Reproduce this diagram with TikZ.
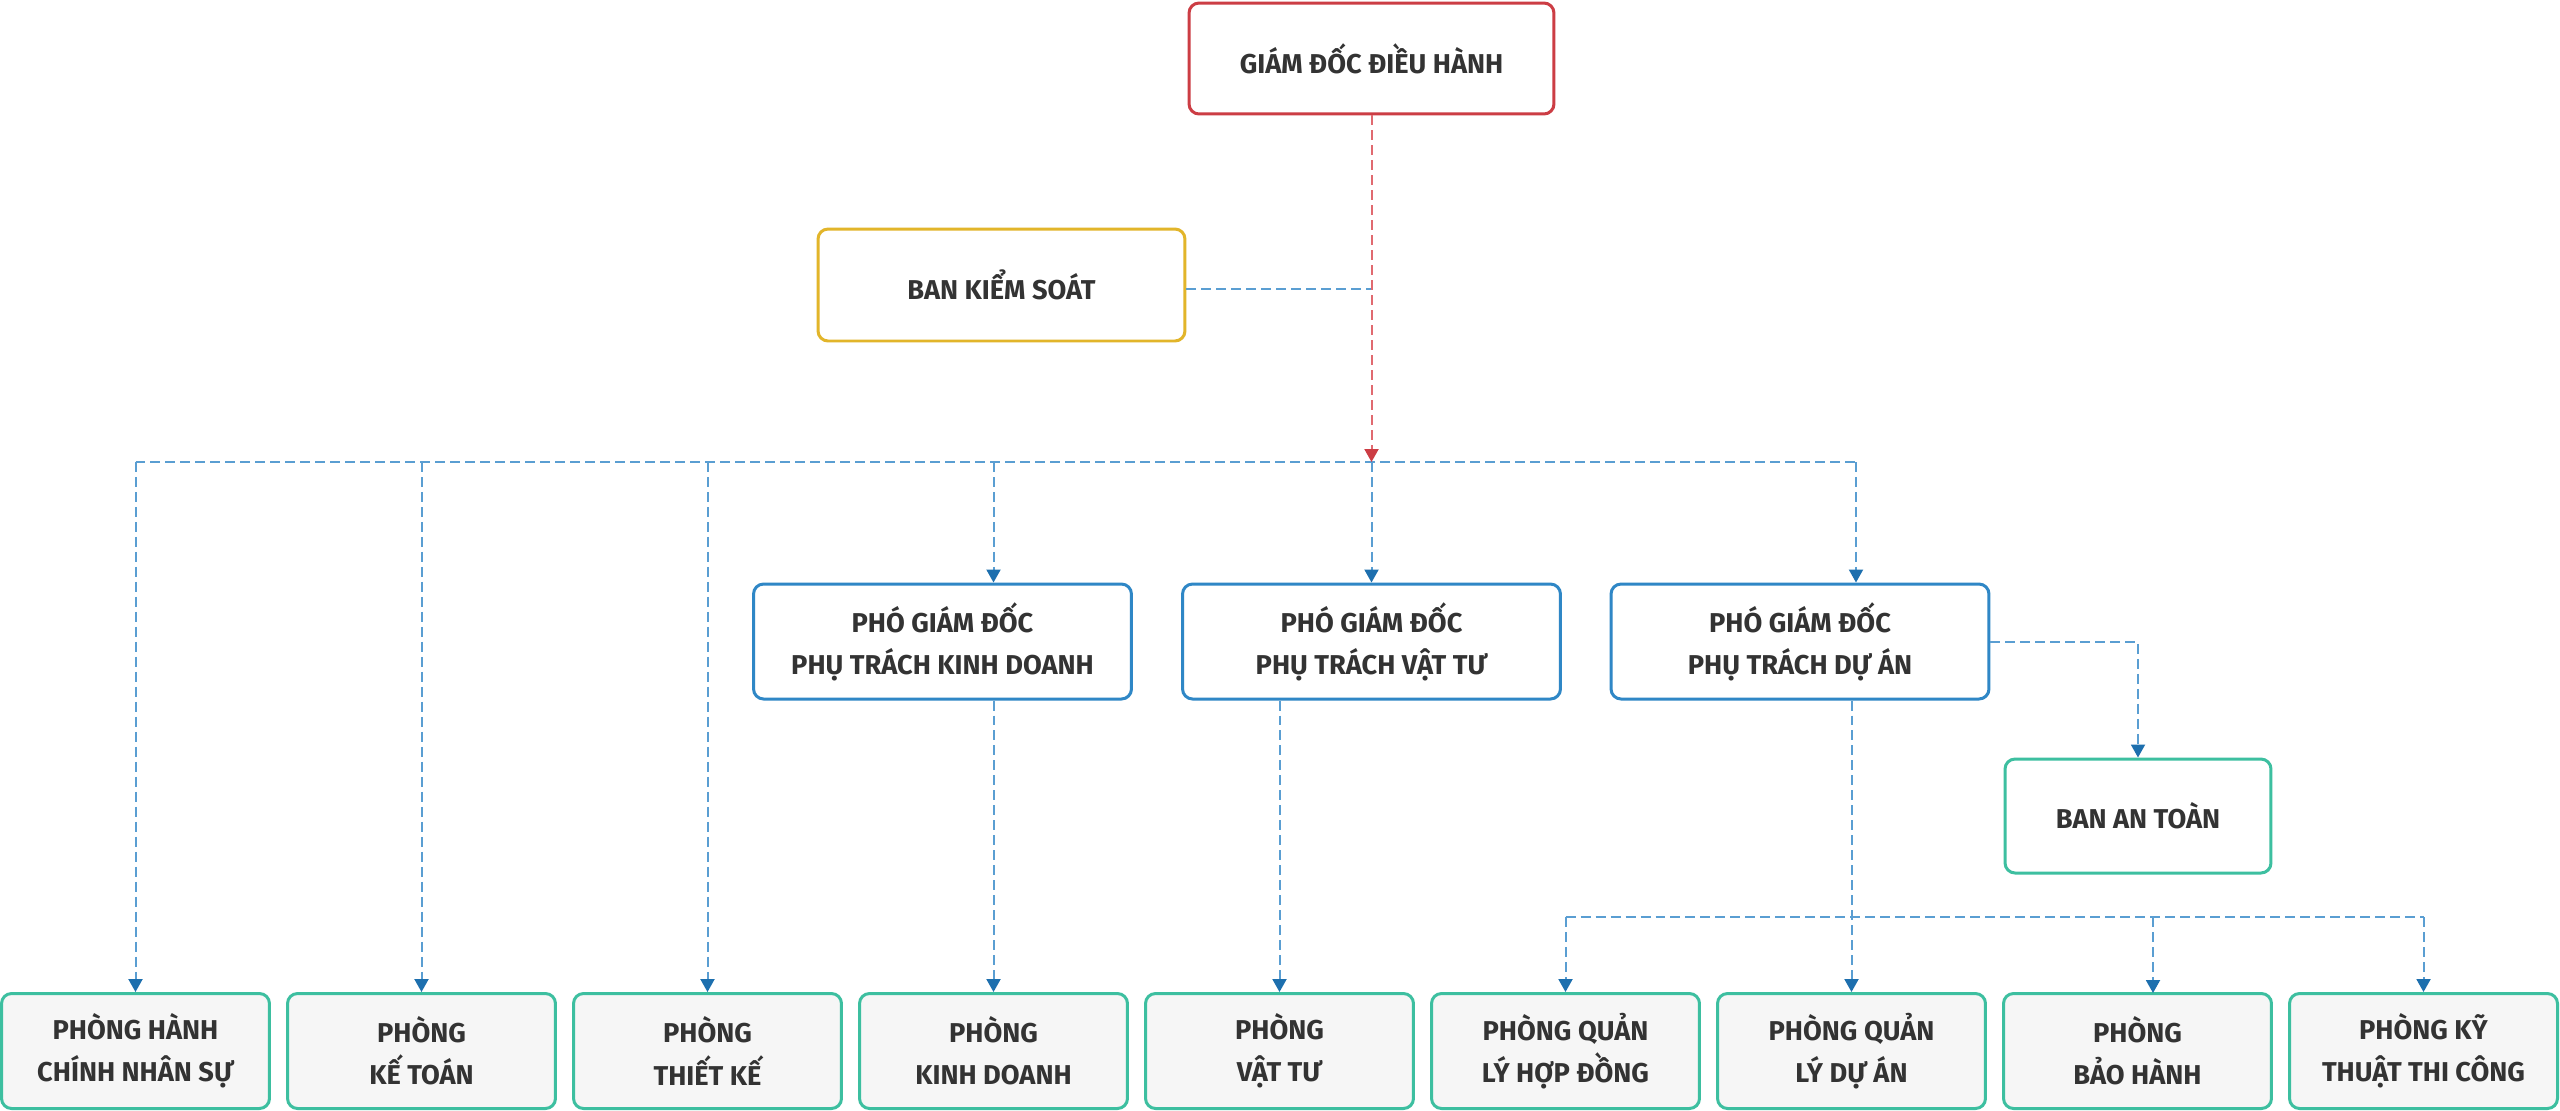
\documentclass[tikz,border=0pt]{standalone}
\usepackage{fontspec}
\setmainfont{Fira Sans}
\usetikzlibrary{arrows.meta}
\definecolor{txt}{HTML}{333333}
\definecolor{cred}{HTML}{CC3D44}
\definecolor{credline}{HTML}{E06A70}
\definecolor{cyel}{HTML}{E2B52A}
\definecolor{cblue}{HTML}{2F87C6}
\definecolor{cteal}{HTML}{3DBFA0}
\definecolor{cline}{HTML}{5A9ED2}
\definecolor{carrow}{HTML}{1D6FAE}
\definecolor{cfill}{HTML}{F6F6F6}
\tikzset{
  box/.style={draw, line width=0.06cm, rounded corners=0.2cm, align=center, text=txt,
    font=\bfseries\fontsize{15.5}{24}\selectfont, inner sep=0pt},
  topbox/.style={box, draw=cred, fill=white, minimum width=7.3cm, minimum height=2.22cm},
  ksbox/.style={box, draw=cyel, fill=white, minimum width=7.34cm, minimum height=2.24cm},
  pgdbox/.style={box, draw=cblue, fill=white, minimum width=7.56cm, minimum height=2.3cm},
  safebox/.style={box, draw=cteal, fill=white, minimum width=5.32cm, minimum height=2.28cm},
  deptbox/.style={box, draw=cteal, fill=cfill, minimum width=5.36cm, minimum height=2.3cm},
  link/.style={draw=cline, line width=0.04cm, dash pattern=on 0.2cm off 0.1cm},
  redlink/.style={draw=credline, line width=0.04cm, dash pattern=on 0.2cm off 0.1cm},
  tip/.style={-{Triangle[width=0.28cm,length=0.26cm,color=carrow]}},
  redtip/.style={-{Triangle[width=0.28cm,length=0.26cm,color=cred]}}
}
\begin{document}
\begin{tikzpicture}[x=0.02cm,y=-0.02cm]
\useasboundingbox (0,0) rectangle (2560,1110);
\fill[white] (0,0) rectangle (2560,1110);

\node[topbox] (gd) at (1371.5,58.5) {GIÁM ĐỐC ĐIỀU HÀNH};
\node[ksbox] (bks) at (1001.5,285) {BAN KIỂM SOÁT};
\node[pgdbox] (kd) at (942.5,641.5) {PHÓ GIÁM ĐỐC\\PHỤ TRÁCH KINH DOANH};
\node[pgdbox] (vt) at (1371.5,641.5) {PHÓ GIÁM ĐỐC\\PHỤ TRÁCH VẬT TƯ};
\node[pgdbox] (da) at (1800,641.5) {PHÓ GIÁM ĐỐC\\PHỤ TRÁCH DỰ ÁN};
\node[safebox] (bat) at (2138,816) {BAN AN TOÀN};

\node[deptbox] (p1) at (135.5,1051) {PHÒNG HÀNH\\CHÍNH NHÂN SỰ};
\node[deptbox] (p2) at (421.5,1051) {PHÒNG\\KẾ TOÁN};
\node[deptbox] (p3) at (707.5,1051) {PHÒNG\\THIẾT KẾ};
\node[deptbox] (p4) at (993.5,1051) {PHÒNG\\KINH DOANH};
\node[deptbox] (p5) at (1279.5,1051) {PHÒNG\\VẬT TƯ};
\node[deptbox] (p6) at (1565.5,1051) {PHÒNG QUẢN\\LÝ HỢP ĐỒNG};
\node[deptbox] (p7) at (1851.5,1051) {PHÒNG QUẢN\\LÝ DỰ ÁN};
\node[deptbox] (p8) at (2137.5,1051) {PHÒNG\\BẢO HÀNH};
\node[deptbox] (p9) at (2423.5,1051) {PHÒNG KỸ\\THUẬT THI CÔNG};

% top connectors
\coordinate (hub) at (1371.5,462);
\coordinate (busL) at (135.5,462);
\coordinate (busR) at (1856,462);
\draw[link] ([yshift=-0.08cm]bks.east) -- ([yshift=-0.08cm]bks.east -| gd.south);
\draw[link] (busL) -- (busR);
\draw[redlink,redtip] (gd.south) -- (hub);
\draw[link,tip] (busL) -- (p1.north);
\draw[link,tip] (hub -| p2.north) -- (p2.north);
\draw[link,tip] (hub -| p3.north) -- (p3.north);
\draw[link,tip] (hub -| p4.north) -- (kd.north -| p4.north);
\draw[link,tip] (hub) -- (vt.north);
\draw[link,tip] (busR) -- (busR |- da.north);

% vice director connectors
\draw[link,tip] (kd.south -| p4.north) -- (p4.north);
\draw[link,tip] (vt.south -| p5.north) -- (p5.north);
\draw[link,tip] (da.south -| p7.north) -- (p7.north);
\draw[link,tip] (da.east) -| (bat.north);

% bottom bus
\coordinate (bbL) at (1565.5,917);
\coordinate (bbR) at (2423.5,917);
\coordinate (bbM) at (2153,917);
\coordinate (bhTop) at (2153,993);
\draw[link] (bbL) -- (bbR);
\draw[link,tip] (bbL) -- (p6.north);
\draw[link,tip] (bbM) -- (bhTop);
\draw[link,tip] (bbR) -- (p9.north);
\end{tikzpicture}
\end{document}
